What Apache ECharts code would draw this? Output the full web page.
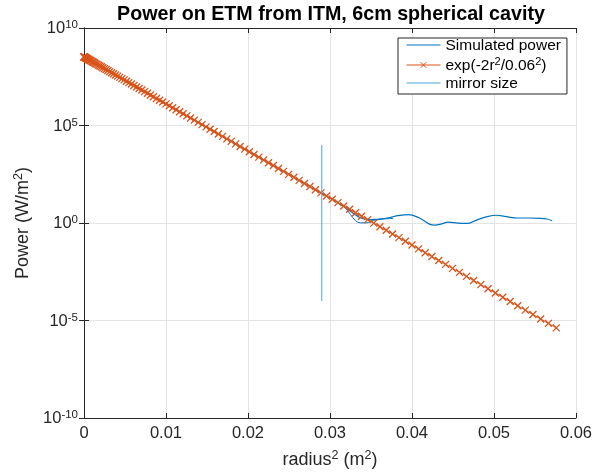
<!DOCTYPE html>
<html><head><meta charset="utf-8">
<script src="https://cdn.jsdelivr.net/npm/echarts@6/dist/echarts.min.js"></script>
<style>html,body{margin:0;padding:0;background:#fff}#c{width:595px;height:474px}</style>
</head><body><div id="c"></div>
<script>
// ---- data ----
const expX = [0,0.000004,0.000016,0.000036,0.000064,0.0001,0.000144,0.000196,0.000256,0.000324,
0.0004,0.000484,0.000576,0.000676,0.000784,0.0009,0.001024,0.001156,0.001296,0.001444,
0.0016,0.001764,0.001936,0.002116,0.002304,0.0025,0.002704,0.002916,0.003136,0.003364,
0.0036,0.003844,0.004096,0.004356,0.004624,0.0049,0.005184,0.005476,0.005776,0.006084,
0.0064,0.006724,0.007056,0.007396,0.007744,0.0081,0.008464,0.008836,0.009216,0.009604,
0.01,0.010404,0.010816,0.011236,0.011664,0.0121,0.012544,0.012996,0.013456,0.013924,
0.0144,0.014884,0.015376,0.015876,0.016384,0.0169,0.017424,0.017956,0.018496,0.019044,
0.0196,0.020164,0.020736,0.021316,0.021904,0.0225,0.023104,0.023716,0.024336,0.024964,
0.0256,0.026244,0.026896,0.027556,0.028224,0.0289,0.029584,0.030276,0.030976,0.031684,
0.0324,0.033124,0.033856,0.034596,0.035344,0.0361,0.036864,0.037636,0.038416,0.039204,
0.04,0.040804,0.041616,0.042436,0.043264,0.0441,0.044944,0.045796,0.046656,0.047524,
0.0484,0.049284,0.050176,0.051076,0.051984,0.0529,0.053824,0.054756,0.055696,0.056644,0.0576];
const expP = [3.31e8,3.30e8,3.28e8,3.25e8,3.20e8,3.13e8,3.06e8,2.97e8,2.87e8,2.77e8,
2.65e8,2.53e8,2.40e8,2.27e8,2.14e8,2.01e8,1.87e8,1.74e8,1.61e8,1.48e8,
1.36e8,1.24e8,1.13e8,1.02e8,9.20e7,8.26e7,7.37e7,6.55e7,5.80e7,5.11e7,
4.48e7,3.91e7,3.40e7,2.94e7,2.54e7,2.18e7,1.86e7,1.58e7,1.34e7,1.13e7,
9.46e6,7.90e6,6.57e6,5.44e6,4.48e6,3.68e6,3.00e6,2.44e6,1.98e6,1.59e6,
1.28e6,1.02e6,8.13e5,6.44e5,5.08e5,3.98e5,3.11e5,2.42e5,1.88e5,1.45e5,
1.11e5,8.48e4,6.45e4,4.89e4,3.69e4,2.77e4,2.07e4,1.54e4,1.14e4,8.41e3,
6.17e3,4.51e3,3.28e3,2.38e3,1.72e3,1.23e3,881,627,444,313,
220,154,107,74.3,51.2,35.2,24.1,16.4,11.1,7.49,
5.03,3.37,2.24,1.49,0.981,0.644,0.421,0.274,0.178,0.115,
0.0738,0.0472,0.0301,0.0191,0.0120,7.56e-3,4.73e-3,2.95e-3,1.83e-3,1.13e-3,
6.94e-4,4.24e-4,2.59e-4,1.57e-4,9.47e-5,5.69e-5,3.41e-5,2.03e-5,1.20e-5,7.11e-6,4.18e-6];

const simX = [0,0.005,0.01,0.015,0.02,0.025,0.028,0.030,0.031,0.0319,0.0325,0.0331,0.0337,0.0343,0.0349,
0.0355,0.0361,0.0367,0.0375,0.0383,0.0396,0.0408,0.0416,0.0422,0.0428,0.0436,0.0444,0.0456,0.0468,
0.048,0.0493,0.0503,0.0513,0.0529,0.0542,0.0557,0.0565,0.0571];
const simP = [3.3e8,2.06e7,1.28e6,7.9e4,4.9e3,307,58,19,11,6.0,4.0,2.6,1.86,1.6,1.5,
1.55,1.62,1.7,2.0,2.4,2.7,1.9,1.2,0.85,0.78,0.9,1.1,0.98,0.95,
1.5,2.2,2.5,2.2,1.8,1.8,1.74,1.6,1.3];
const simX2 = [0.031,0.0319,0.0325,0.0331,0.0337,0.0345,0.0353,0.0365,0.0377];
const simP2 = [11,6.0,2.7,1.35,1.02,1.02,1.35,1.6,1.7];

const mirrorX = [0.029,0.029];
const mirrorP = [1e-4,1e4];

const xTickLabels = ['0','0.01','0.02','0.03','0.04','0.05','0.06'];
const yTickValues = [1e-10,1e-5,1,1e5,1e10];
const yTickExponents = ['-10','-5','0','5','10'];

// ---- chart ----
const FONT = '"Liberation Sans", Arial, Helvetica, sans-serif';
const INK = '#262626';
const zip = (xs, ys) => xs.map((x, i) => [x, ys[i]]);
const chart = echarts.init(document.getElementById('c'), null, {renderer: 'canvas'});

const tickRich = {
  b: {fontSize: 16.5, fontFamily: FONT, color: INK, lineHeight: 18, verticalAlign: 'bottom'},
  s: {fontSize: 11.5, fontFamily: FONT, color: INK, lineHeight: 12, verticalAlign: 'top'}
};
const nameRich = {
  b: {fontSize: 18, fontFamily: FONT, color: INK, lineHeight: 20, verticalAlign: 'bottom'},
  s: {fontSize: 12.5, fontFamily: FONT, color: INK, lineHeight: 14, verticalAlign: 'top'}
};
const legRich = {
  b: {fontSize: 15.5, fontFamily: FONT, color: '#000', lineHeight: 18, verticalAlign: 'bottom'},
  s: {fontSize: 11, fontFamily: FONT, color: '#000', lineHeight: 13, verticalAlign: 'top'}
};

const NAME_SIM = 'Simulated power';
const NAME_EXP = 'exp(-2r^2/0.06^2)';
const NAME_MIR = 'mirror size';
const legendText = {};
legendText[NAME_SIM] = '{b|Simulated power}';
legendText[NAME_EXP] = '{b|exp(-2r}{s|2}{b|/0.06}{s|2}{b|)}';
legendText[NAME_MIR] = '{b|mirror size}';

const BLUE = '#0072BD', RED = '#D95319', MIR = '#4AA3DF';

function yLabel(v) {
  const idx = yTickValues.findIndex(t => Math.abs(Math.log10(t) - Math.log10(v)) < 1e-6);
  if (idx < 0) return '';
  return '{b|10}{s|' + yTickExponents[idx] + '}';
}
function xLabel(v) {
  const idx = Math.round(v / 0.01);
  return xTickLabels[idx] !== undefined ? xTickLabels[idx] : '';
}

const gridLine = {show: true, lineStyle: {color: '#e4e4e4', width: 1}};
const axLine = {show: true, lineStyle: {color: INK, width: 1}};

chart.setOption({
  animation: false,
  backgroundColor: '#fff',
  title: {
    text: 'Power on ETM from ITM, 6cm spherical cavity',
    left: 326, top: 0, textAlign: 'center',
    textStyle: {fontFamily: FONT, fontWeight: 'bold', fontSize: 19.7, color: '#000'}
  },
  legend: {
    orient: 'vertical', left: 398, top: 38,
    data: [
      {name: NAME_SIM, itemStyle: {opacity: 0}, lineStyle: {width: 1}},
      {name: NAME_EXP, lineStyle: {width: 1}, itemStyle: {borderWidth: 1}},
      {name: NAME_MIR, itemStyle: {opacity: 0}, lineStyle: {width: 1}}
    ],
    itemWidth: 34, itemHeight: 7, itemGap: 2,
    padding: [0, 6, 2, 8],
    backgroundColor: '#fff', borderColor: INK, borderWidth: 1, borderRadius: 0,
    formatter: n => legendText[n],
    textStyle: {rich: legRich}
  },
  grid: {left: 84, right: 17, top: 28, bottom: 55, containLabel: false},
  xAxis: [{
    type: 'value', min: 0, max: 0.06, interval: 0.01, position: 'bottom',
    axisLine: axLine, axisTick: {show: true, inside: true, length: 5, lineStyle: {color: INK}},
    axisLabel: {formatter: xLabel, fontFamily: FONT, fontSize: 16.5, color: INK, margin: 7},
    splitLine: gridLine,
    name: '{b|radius}{s|2}{b| (m}{s|2}{b|)}', nameLocation: 'middle', nameGap: 31,
    nameTextStyle: {rich: nameRich}
  }, {
    type: 'value', min: 0, max: 0.06, interval: 0.01, position: 'top',
    axisLine: axLine, axisTick: {show: true, inside: true, length: 5, lineStyle: {color: INK}},
    axisLabel: {show: false}, splitLine: {show: false}
  }],
  yAxis: [{
    type: 'log', logBase: 10, min: 1e-10, max: 1e10, interval: 5, position: 'left',
    axisLine: axLine, axisTick: {show: true, inside: true, length: 5, lineStyle: {color: INK}},
    minorTick: {show: false},
    axisLabel: {formatter: yLabel, rich: tickRich, margin: 6},
    splitLine: gridLine,
    name: '{b|Power (W/m}{s|2}{b|)}', nameLocation: 'middle', nameGap: 49, nameRotate: 90,
    nameTextStyle: {rich: nameRich}
  }, {
    type: 'log', logBase: 10, min: 1e-10, max: 1e10, interval: 5, position: 'right',
    axisLine: axLine, axisTick: {show: true, inside: true, length: 5, lineStyle: {color: INK}},
    axisLabel: {show: false}, splitLine: {show: false}
  }],
  series: [{
    name: NAME_SIM, type: 'line', data: zip(simX, simP), showSymbol: false,
    smooth: 0.35, lineStyle: {color: BLUE, width: 1.2}, itemStyle: {color: BLUE}, z: 2
  }, {
    name: NAME_SIM, type: 'line', data: zip(simX2, simP2), showSymbol: false,
    smooth: 0.35, lineStyle: {color: BLUE, width: 1}, itemStyle: {color: BLUE}, z: 2
  }, {
    name: NAME_EXP, type: 'line', data: zip(expX, expP),
    symbol: 'path://M0,0L10,10M10,0L0,10', symbolSize: 7, showSymbol: true,
    lineStyle: {color: RED, width: 1}, itemStyle: {color: RED, borderColor: RED, borderWidth: 1.3}, z: 3
  }, {
    name: NAME_MIR, type: 'line', data: zip(mirrorX, mirrorP), showSymbol: false,
    lineStyle: {color: MIR, width: 1}, itemStyle: {color: MIR}, z: 4
  }]
});
</script>
</body></html>
